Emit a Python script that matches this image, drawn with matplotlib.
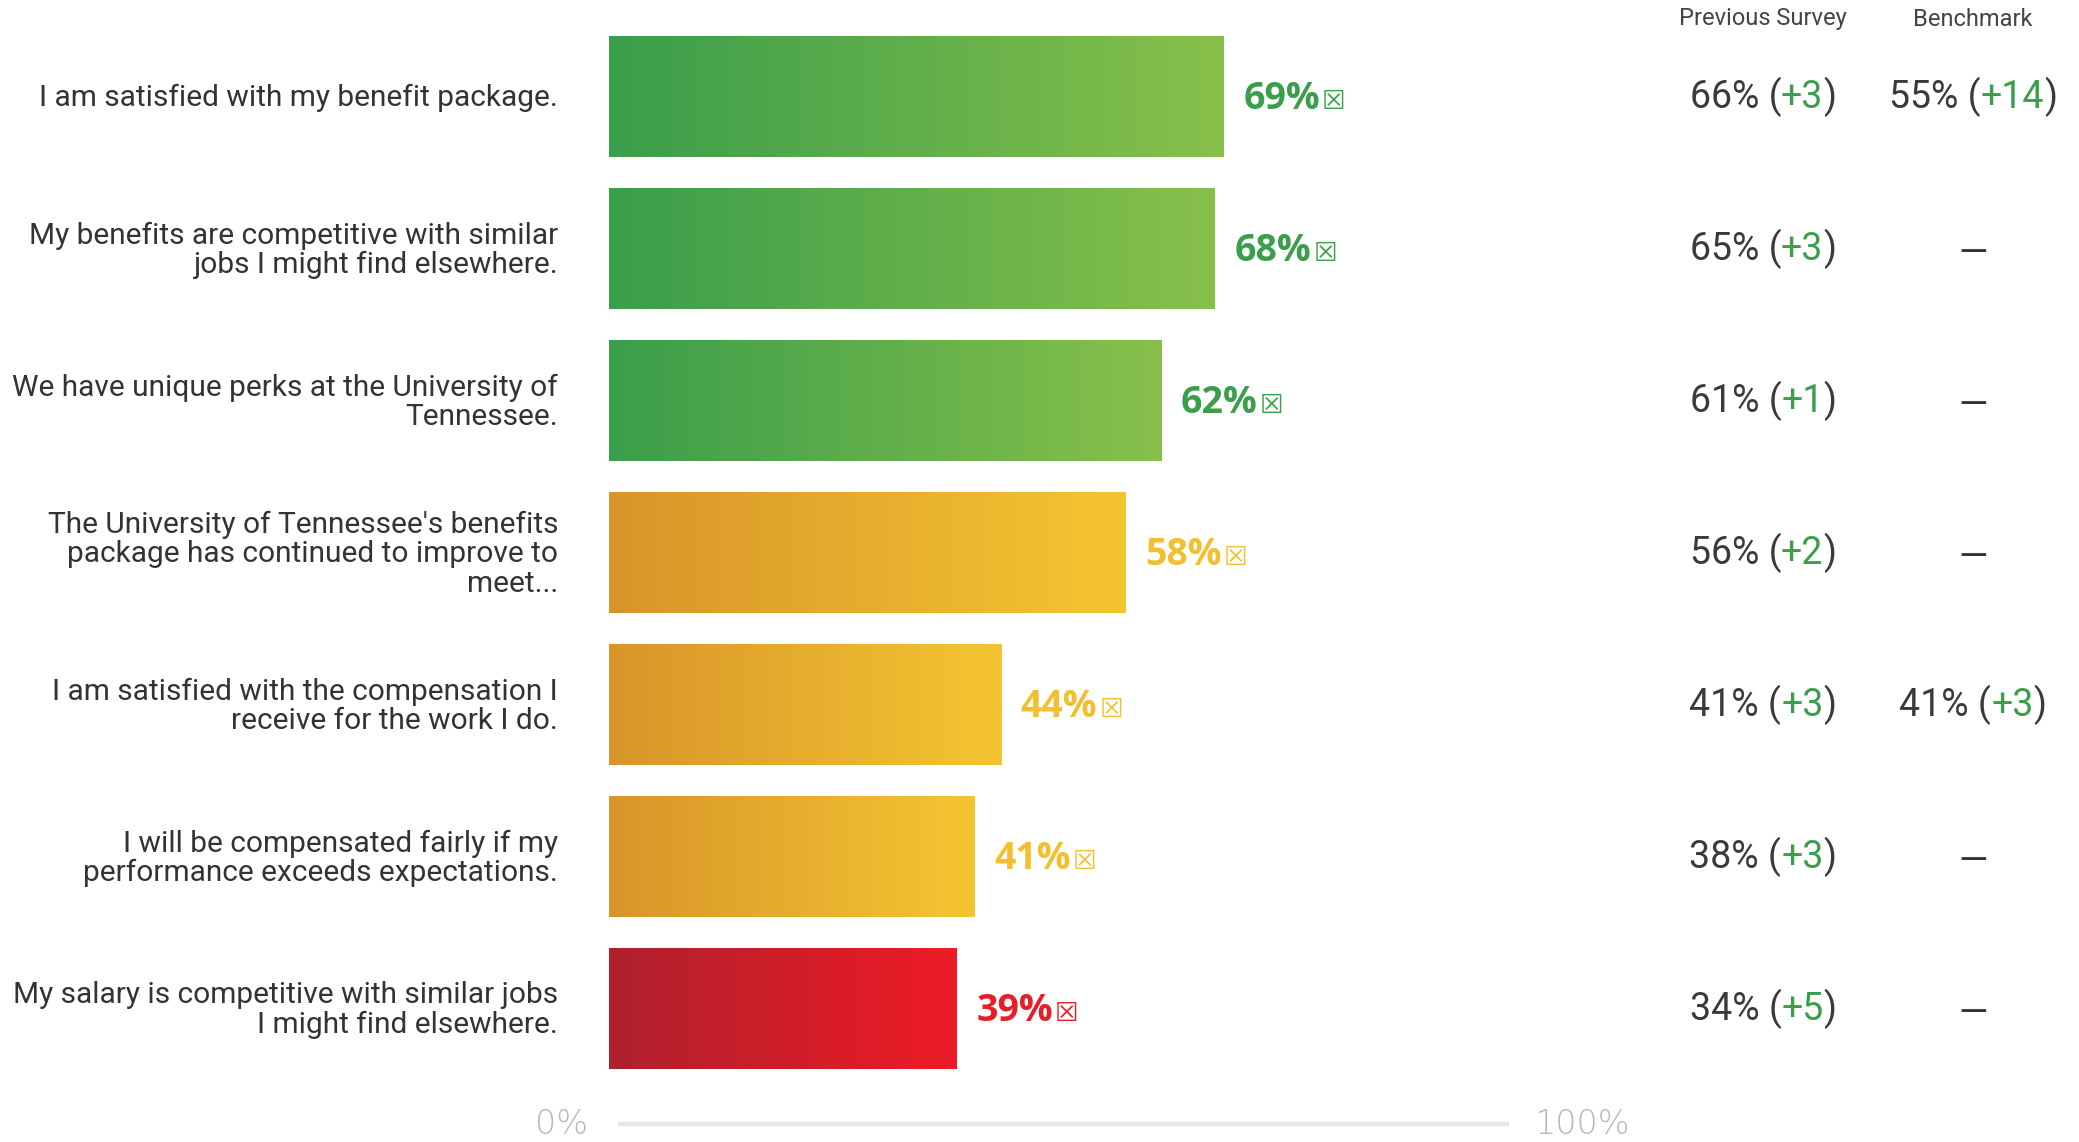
import numpy as np
import matplotlib
matplotlib.use("Agg")
import matplotlib.pyplot as plt
import matplotlib.transforms as mtransforms
from matplotlib.colors import LinearSegmentedColormap
from matplotlib.offsetbox import TextArea, HPacker, AnnotationBbox

# ---- data -------------------------------------------------------------
statements = [
    "I am satisfied with my benefit package.",
    "My benefits are competitive with similar\njobs I might find elsewhere.",
    "We have unique perks at the University of\nTennessee.",
    "The University of Tennessee's benefits\npackage has continued to improve to\nmeet...",
    "I am satisfied with the compensation I\nreceive for the work I do.",
    "I will be compensated fairly if my\nperformance exceeds expectations.",
    "My salary is competitive with similar jobs\nI might find elsewhere.",
]
scores = [69, 68, 62, 58, 44, 41, 39]
tiers = ["high", "high", "high", "mid", "mid", "mid", "low"]

prev_scores = [66, 65, 61, 56, 41, 38, 34]
prev_deltas = ["+3", "+3", "+1", "+2", "+3", "+3", "+5"]
bench_scores = [55, None, None, None, 41, None, None]
bench_deltas = ["+14", None, None, None, "+3", None, None]

column_headers = ["Previous Survey", "Benchmark"]
axis_labels = ["0%", "100%"]

# ---- styling ----------------------------------------------------------
tier_gradients = {
    "high": ("#3a9e4a", "#88c04b"),
    "mid": ("#d8952a", "#f5c531"),
    "low": ("#af212e", "#ee1b25"),
}
tier_text = {"high": "#3a9e4a", "mid": "#f3bf2f", "low": "#e61e28"}
dark = "#333333"
delta_green = "#3a9e4a"

W, H = 2079, 1142
fig = plt.figure(figsize=(W / 100, H / 100), dpi=100)
fig.patch.set_facecolor("white")

n = len(scores)
pitch = 152.0
top_px = 96.5 - pitch / 2
bot_px = top_px + n * pitch
ax = fig.add_axes([609 / W, 1 - bot_px / H, 891 / W, (bot_px - top_px) / H])
ax.set_axis_off()

ypos = np.arange(n)
bars = ax.barh(ypos, scores, height=0.8, color="none", edgecolor="none")

# horizontal gradient inside each bar
grad = np.linspace(0, 1, 256).reshape(1, -1)
for bar, tier in zip(bars, tiers):
    x0, y0 = bar.get_xy()
    w, h = bar.get_width(), bar.get_height()
    cmap = LinearSegmentedColormap.from_list(tier, tier_gradients[tier])
    im = ax.imshow(grad, extent=[x0, x0 + w, y0 + h, y0], aspect="auto",
                   cmap=cmap, interpolation="bicubic", zorder=2)
    im.set_clip_path(bar)

ax.set_xlim(0, 100)
ax.set_ylim(n - 0.5, -0.5)

# statement labels
for y, s in zip(ypos, statements):
    ax.text(-5.7, y + 0.012, s, ha="right", va="center", fontsize=21.5,
            color=dark, family=["Roboto", "DejaVu Sans"], linespacing=1.07)

# value labels with marker box
cap_off = 0.085
for y, v, tier in zip(ypos, scores, tiers):
    c = tier_text[tier]
    t = ax.text(v + 2.2, y + cap_off, f"{v}%", ha="left", va="baseline",
                fontsize=27, fontweight="bold", color=c,
                family=["Open Sans", "DejaVu Sans"])
    ax.annotate("\u2612", xy=(1, y + cap_off), xycoords=(t, "data"),
                xytext=(1.5, 0), textcoords="offset points",
                ha="left", va="baseline", fontsize=19, fontweight="bold",
                color=c, family="DejaVu Sans")

# bottom scale
ax.plot([1, 101], [6.76, 6.76], color="#e6e6e6", lw=3.2,
        solid_capstyle="butt", clip_on=False)
ax.text(-2.4, 6.76, axis_labels[0], ha="right", va="center", fontsize=24,
        color="#b8b8b8", family=["Liberation Sans Narrow", "DejaVu Sans"],
        fontweight="light", clip_on=False)
ax.text(103.8, 6.76, axis_labels[1], ha="left", va="center", fontsize=24,
        color="#b8b8b8", family=["Liberation Sans Narrow", "DejaVu Sans"],
        fontweight="light", clip_on=False)

# comparison columns
col_x = [1763 / W, 1973 / W]
for cx, head in zip(col_x, column_headers):
    fig.text(cx, 1 - 19 / H, head, ha="center", va="center", fontsize=17,
             color="#444444", family=["Roboto", "DejaVu Sans"])

blend = mtransforms.blended_transform_factory(fig.transFigure, ax.transData)
num_props = dict(fontsize=27, color="#3a3a3a", family=["Roboto", "DejaVu Sans"])
delta_props = dict(num_props, color=delta_green)


def compare_cell(cx, y, score, delta):
    if score is None:
        ax.text(cx, y + 0.035, "\u2014", transform=blend, ha="center",
                va="center", fontsize=27, color=dark,
                family=["Roboto", "DejaVu Sans"])
        return
    box = HPacker(children=[TextArea(f"{score}% (", textprops=num_props),
                            TextArea(delta, textprops=delta_props),
                            TextArea(")", textprops=num_props)],
                  sep=0, pad=0, align="baseline")
    ab = AnnotationBbox(box, (cx, y), xycoords=blend, frameon=False,
                        box_alignment=(0.5, 0.5), pad=0)
    ax.add_artist(ab)


for y, ps, pd_, bs, bd in zip(ypos, prev_scores, prev_deltas,
                              bench_scores, bench_deltas):
    compare_cell(col_x[0], y, ps, pd_)
    compare_cell(col_x[1], y, bs, bd)

fig.savefig("out.png", dpi=100, facecolor="white")
